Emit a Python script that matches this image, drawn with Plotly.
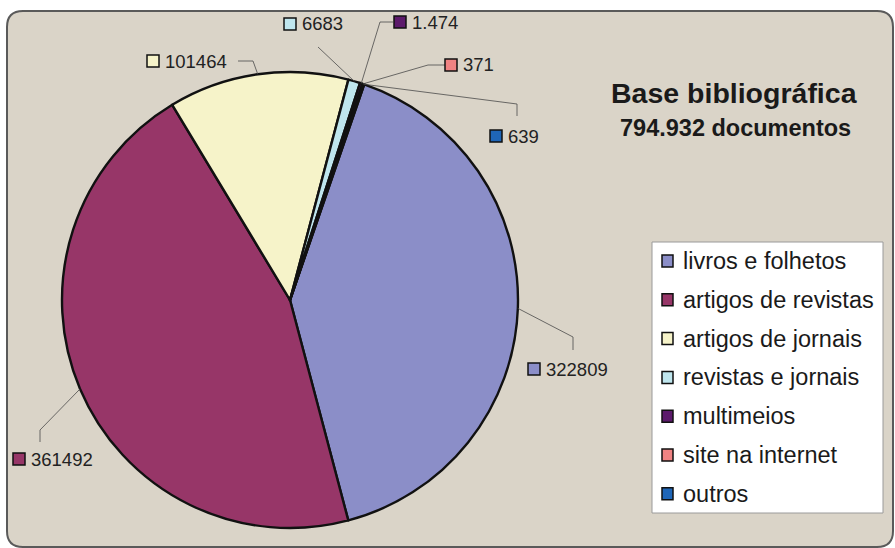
import math
import plotly.graph_objects as go

# ---- data ----
categories = ["livros e folhetos", "artigos de revistas", "artigos de jornais",
              "revistas e jornais", "multimeios", "site na internet", "outros"]
values = [322809, 361492, 101464, 6683, 1474, 371, 639]
value_labels = ["322809", "361492", "101464", "6683", "1.474", "371", "639"]
title_line1 = "Base bibliográfica"
title_line2 = "794.932 documentos"

# ---- style ----
colors = ["#8b8ec8", "#973668", "#f6f3c9", "#bfe6ee", "#5c1a6b", "#f08383", "#1f66b8"]
W, H = 895, 548
CX, CY, R = 290, 300, 228
ROTATION = 19
FONT = "Liberation Sans, Arial, sans-serif"

# label placement (pixels): square left x, square center y, leader polyline points from slice edge
label_sq = [(528, 369), (13, 459), (147, 61), (284, 24), (394, 22), (445, 65), (490, 136)]
label_path = [
    [(573, 337), (573, 350)],
    [(40, 430), (40, 442)],
    [(253, 61), (238, 61)],
    [(318, 47)],
    [(380, 22), (393, 22)],
    [(428, 65), (445, 65)],
    [(517, 104), (517, 116)],
]
legend_box = (652, 242, 883, 513)
legend_y0, legend_dy = 261, 38.8
legend_sq_x, legend_text_x = 662, 681


def px(x):
    return x / W


def py(y):
    return 1 - y / H


fig = go.Figure()
fig.add_trace(go.Pie(
    labels=categories, values=values, sort=False, direction="clockwise",
    rotation=ROTATION, textinfo="none", hoverinfo="label+value+percent",
    marker=dict(colors=colors, line=dict(color="#111111", width=2.4)),
    domain=dict(x=[px(CX - R), px(CX + R)], y=[py(CY + R), py(CY - R)]),
    showlegend=False,
))

shapes = []
annotations = []

# background rounded panel
x0, y0, x1, y1, rr = 7, 11, 893, 547, 16
path = (f"M {px(x0 + rr)},{py(y0)} L {px(x1 - rr)},{py(y0)} Q {px(x1)},{py(y0)} {px(x1)},{py(y0 + rr)} "
        f"L {px(x1)},{py(y1 - rr)} Q {px(x1)},{py(y1)} {px(x1 - rr)},{py(y1)} "
        f"L {px(x0 + rr)},{py(y1)} Q {px(x0)},{py(y1)} {px(x0)},{py(y1 - rr)} "
        f"L {px(x0)},{py(y0 + rr)} Q {px(x0)},{py(y0)} {px(x0 + rr)},{py(y0)} Z")
shapes.append(dict(type="path", xref="paper", yref="paper", path=path,
                   fillcolor="#dad4c8", line=dict(color="#5a5a5a", width=2), layer="below"))

# data labels with leader lines
total = sum(values)
cum = 0
for i, v in enumerate(values):
    mid = math.radians(ROTATION + (cum + v / 2) / total * 360)
    cum += v
    ex, ey = CX + R * math.sin(mid), CY - R * math.cos(mid)
    pts = [(ex, ey)] + label_path[i]
    d = "M " + " L ".join(f"{px(a)},{py(b)}" for a, b in pts)
    shapes.append(dict(type="path", xref="paper", yref="paper", path=d,
                       line=dict(color="#4a4a4a", width=0.8)))
    sx, sy = label_sq[i]
    shapes.append(dict(type="rect", xref="paper", yref="paper",
                       x0=px(sx), x1=px(sx + 12), y0=py(sy - 6), y1=py(sy + 6),
                       fillcolor=colors[i], line=dict(color="#111111", width=1.5)))
    annotations.append(dict(xref="paper", yref="paper", x=px(sx + 16), y=py(sy),
                            xanchor="left", yanchor="middle", showarrow=False,
                            text=value_labels[i], font=dict(family=FONT, size=18.5, color="#222222")))

# legend box
lx0, ly0, lx1, ly1 = legend_box
shapes.append(dict(type="rect", xref="paper", yref="paper", x0=px(lx0), x1=px(lx1),
                   y0=py(ly1), y1=py(ly0), fillcolor="#ffffff", line=dict(color="#9a9a9a", width=1)))
for i, cat in enumerate(categories):
    yc = legend_y0 + i * legend_dy
    shapes.append(dict(type="rect", xref="paper", yref="paper",
                       x0=px(legend_sq_x), x1=px(legend_sq_x + 11), y0=py(yc + 6), y1=py(yc - 6),
                       fillcolor=colors[i], line=dict(color="#111111", width=1.5)))
    annotations.append(dict(xref="paper", yref="paper", x=px(legend_text_x), y=py(yc),
                            xanchor="left", yanchor="middle", showarrow=False, text=cat,
                            font=dict(family=FONT, size=23.5, color="#1a1a1a")))

# title
annotations.append(dict(xref="paper", yref="paper", x=px(734), y=py(93), showarrow=False,
                        text=f"<b>{title_line1}</b>", xanchor="center", yanchor="middle",
                        font=dict(family=FONT, size=28.5, color="#1a1a1a")))
annotations.append(dict(xref="paper", yref="paper", x=px(735), y=py(128), showarrow=False,
                        text=f"<b>{title_line2}</b>", xanchor="center", yanchor="middle",
                        font=dict(family=FONT, size=23.5, color="#1a1a1a")))

fig.update_layout(
    width=W, height=H, margin=dict(l=0, r=0, t=0, b=0),
    paper_bgcolor="#ffffff", plot_bgcolor="#ffffff",
    shapes=shapes, annotations=annotations, showlegend=False,
)
fig.write_html("out.html", config={"displayModeBar": False},
               post_script="document.body.style.margin='0';document.body.style.padding='0';")
